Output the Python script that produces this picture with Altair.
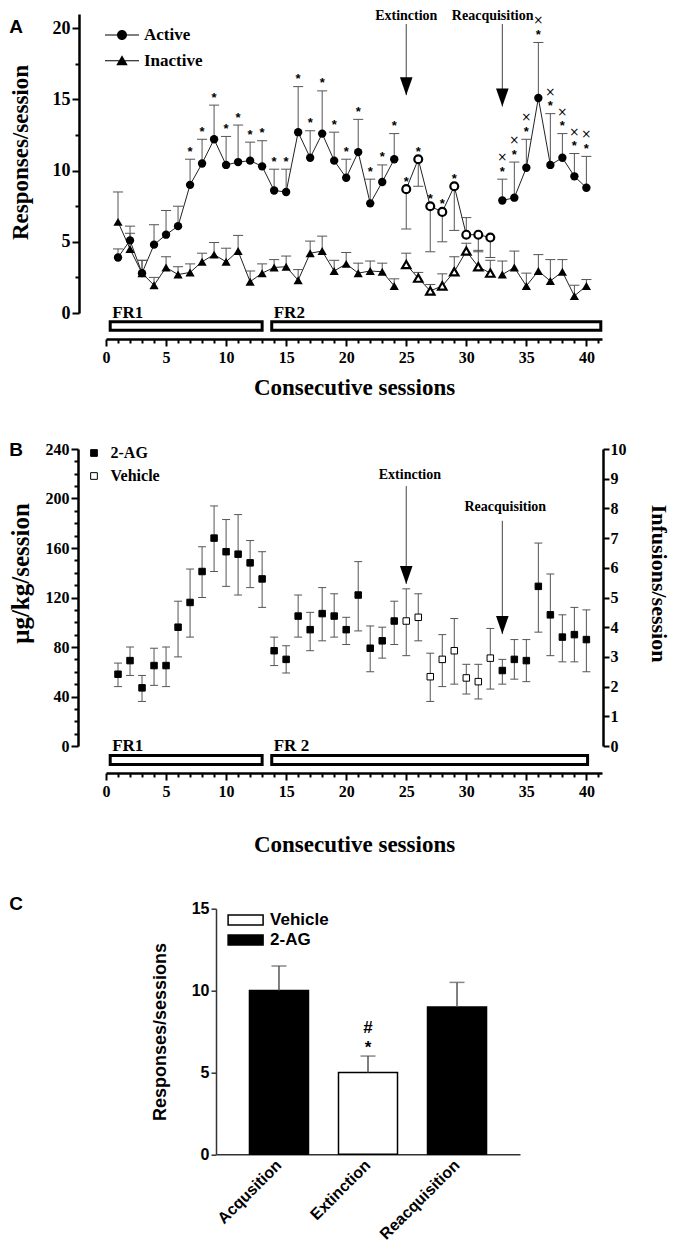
import altair as alt
import pandas as pd

# ---------------- Panel A data ----------------
sessions = list(range(1, 41))
phase = ["acq"] * 24 + ["ext"] * 8 + ["reacq"] * 8
active_mean = [3.9, 5.1, 2.8, 4.8, 5.5, 6.1, 9.0, 10.5, 12.2, 10.4,
               10.6, 10.7, 10.3, 8.6, 8.5, 12.7, 10.9, 12.6, 10.7, 9.5,
               11.3, 7.7, 9.2, 10.8, 8.7, 10.8, 7.5, 7.1, 8.9, 5.5,
               5.5, 5.3, 7.9, 8.1, 10.2, 15.1, 10.4, 10.9, 9.6, 8.8]
active_err_end = [4.5, 5.6, 3.7, 6.2, 7.2, 7.5, 10.8, 12.2, 14.6, 12.4,
                  13.2, 12.0, 12.1, 10.1, 10.1, 15.9, 12.8, 15.6, 12.7, 10.8,
                  13.6, 9.4, 10.4, 12.6, 5.9, 8.9, 4.3, 5.0, 5.8, 6.7,
                  4.3, 3.9, 9.4, 10.6, 12.2, 19.0, 14.0, 12.6, 11.2, 11.0]
inactive_mean = [6.4, 4.5, 2.8, 1.95, 3.2, 2.7, 2.85, 3.6, 4.1, 3.6,
                 4.35, 2.2, 2.8, 3.2, 3.25, 2.3, 4.2, 4.35, 2.95, 3.45,
                 2.8, 2.95, 2.9, 1.9, 3.4, 2.45, 1.55, 1.9, 2.9, 4.35,
                 3.25, 2.8, 2.7, 3.2, 1.9, 2.95, 2.25, 2.9, 1.2, 1.9]
inactive_err_end = [8.5, 6.1, 3.7, 2.5, 3.95, 3.25, 3.45, 4.2, 4.95, 4.55,
                    5.45, 2.95, 3.45, 3.75, 4.0, 3.05, 5.05, 5.4, 3.7, 4.25,
                    3.5, 3.65, 3.5, 2.4, 4.2, 2.85, 2.0, 2.75, 3.95, 4.9,
                    4.4, 3.7, 3.65, 4.35, 2.8, 4.1, 3.75, 3.75, 1.95, 2.35]
active_star = [0] * 6 + [1] * 18 + [1] * 5 + [0] * 3 + [1] * 8
active_cross = [0] * 32 + [1] * 8

# ---------------- Panel B data ----------------
b_group = ["2-AG"] * 24 + ["Vehicle"] * 8 + ["2-AG"] * 8
b_mean = [58, 69, 47, 65, 65, 96, 116, 141, 168, 157,
          155, 148, 135, 77, 70, 105, 94, 107, 105, 94,
          122, 79, 85, 101, 101, 104, 56, 70, 77, 55,
          52, 71, 61, 70, 69, 129, 106, 88, 90, 86]
b_low = [48, 57, 36, 49, 48, 72, 88, 120, 141, 129,
         122, 128, 112, 65, 59, 88, 77, 85, 88, 82,
         93, 60, 71, 82, 73, 85, 36, 48, 50, 42,
         38, 46, 50, 54, 52, 92, 73, 68, 68, 60]
b_high = [67, 80, 57, 79, 80, 117, 143, 161, 194, 183,
          187, 166, 157, 88, 81, 122, 108, 128, 123, 104,
          149, 97, 96, 117, 127, 123, 75, 90, 103, 66,
          66, 95, 70, 86, 86, 164, 139, 106, 112, 110]

# ---------------- Panel C data ----------------
c_phase = ["Acqusition", "Extinction", "Reacquisition"]
c_treat = ["2-AG", "Vehicle", "2-AG"]
c_mean = [10.0, 5.0, 9.0]
c_err = [11.5, 6.0, 10.5]
c_star = ["", "*", ""]
c_hash = ["", "#", ""]

# ---------------- schedules / events ----------------
fr_A = ["FR1", "FR2"]
fr_B = ["FR1", "FR 2"]
fr_start = [0.35, 13.8]
fr_end_A = [13.0, 41.2]
fr_end_B = [13.0, 40.1]
events = ["Extinction", "Reacquisition"]
event_session = [25, 33]

# ---------------- styling ----------------
SERIF = "Liberation Serif"
SANS = "Liberation Sans"
W = 496
HA = 299
HB = 297
WC = 304
HC = 245.6
XDOM = [0, 41.3]
HEAD = "M-0.7,-2L0.7,-2L0,0Z"
BAR = "M-1.4,-0.045H1.4V0.045H-1.4Z"
P_ACT = BAR + "M0.41,0A0.41,0.41,0,1,1,-0.41,0A0.41,0.41,0,1,1,0.41,0Z"
P_INA = BAR + "M0,-0.44L0.47,0.38L-0.47,0.38Z"
P_RECT = "M-1.6,-0.457H1.6V0.457H-1.6Z"


def cond(test, big, small):
    return {"condition": {"test": test, "value": big}, "value": small}


xscale = alt.Scale(domain=XDOM, nice=False, zero=False)


def session_axis(offset, title_pad):
    return alt.Axis(
        values=list(range(0, 42)),
        labelExpr="datum.value % 5 === 0 ? format(datum.value, 'd') : ''",
        tickSize=cond("datum.value % 5 === 0", 7, 4),
        offset=offset, grid=False, labelOverlap=False, labelFlush=False,
        domainColor="black", domainWidth=2.5, tickColor="black", tickWidth=2,
        labelFont=SERIF, labelFontSize=16, labelFontWeight="bold",
        labelColor="black", labelPadding=3,
        title="Consecutive sessions", titleFont=SERIF, titleFontSize=23,
        titleFontWeight="bold", titleColor="black", titlePadding=title_pad)


def letter(txt, x, y):
    return alt.Chart(pd.DataFrame({"t": [txt]})).mark_text(
        font=SANS, fontSize=19, fontWeight="bold", color="black",
        align="center", baseline="middle").encode(
        x=alt.value(x), y=alt.value(y), text="t:N")


# ================= Panel A =================
dfA = pd.DataFrame({"session": sessions, "phase": phase,
                    "active": active_mean, "active_err": active_err_end,
                    "inactive": inactive_mean, "inactive_err": inactive_err_end,
                    "star": active_star, "cross": active_cross})
yA_scale = alt.Scale(domain=[0, 21], nice=False, zero=False)
xA_axis = session_axis(26, 11)
yA_axis = alt.Axis(
    values=[i * 2.5 for i in range(9)],
    labelExpr="datum.value % 5 === 0 ? format(datum.value, 'd') : ''",
    tickSize=cond("datum.value % 5 === 0", 7, 4),
    offset=27, grid=False, labelOverlap=False, labelFlush=False,
    domainColor="black", domainWidth=2.5, tickColor="black", tickWidth=2,
    labelFont=SERIF, labelFontSize=18, labelFontWeight="bold",
    labelColor="black", labelPadding=2,
    title="Responses/session", titleFont=SERIF, titleFontSize=23,
    titleFontWeight="bold", titleColor="black", titlePadding=20, titleY=138)


def xA(f="session"):
    return alt.X(f + ":Q", scale=xscale, axis=xA_axis)


def yA(f):
    return alt.Y(f + ":Q", scale=yA_scale, axis=yA_axis)


baseA = alt.Chart(dfA)

frA_df = pd.DataFrame({"label": fr_A, "start": fr_start, "end": fr_end_A})
frA_rect = alt.Chart(frA_df).mark_rect(fill="white", stroke="black", strokeWidth=3).encode(
    x=xA("start"), x2="end:Q", y=alt.value(HA + 8.8), y2=alt.value(HA + 17.2))
frA_text = alt.Chart(frA_df).mark_text(
    align="left", baseline="alphabetic", dx=2, font=SERIF, fontSize=17,
    fontWeight="bold", color="black").encode(x=xA("start"), y=alt.value(HA + 5), text="label:N")

line_act = baseA.mark_line(color="#222", strokeWidth=1).encode(x=xA(), y=yA("active"), detail="phase:N")
line_in = baseA.mark_line(color="#222", strokeWidth=1).encode(x=xA(), y=yA("inactive"), detail="phase:N")

capsA = baseA.transform_calculate(l="datum.session - 0.42", r="datum.session + 0.42")
err_act = baseA.mark_rule(color="#555", strokeWidth=1).encode(x=xA(), y=yA("active"), y2="active_err:Q")
cap_act = capsA.mark_rule(color="#555", strokeWidth=1).encode(x=xA("l"), x2="r:Q", y=yA("active_err"))
err_in = baseA.mark_rule(color="#555", strokeWidth=1).encode(x=xA(), y=yA("inactive"), y2="inactive_err:Q")
cap_in = capsA.mark_rule(color="#555", strokeWidth=1).encode(x=xA("l"), x2="r:Q", y=yA("inactive_err"))

pt_act_f = baseA.transform_filter("datum.phase !== 'ext'").mark_point(
    shape="circle", filled=True, color="black", size=70, opacity=1).encode(x=xA(), y=yA("active"))
pt_act_o = baseA.transform_filter("datum.phase === 'ext'").mark_point(
    shape="circle", filled=False, fill="white", stroke="black", strokeWidth=2.2,
    size=62, opacity=1).encode(x=xA(), y=yA("active"))
pt_in_f = baseA.transform_filter("datum.phase !== 'ext'").mark_point(
    shape="triangle-up", filled=True, color="black", size=85, opacity=1).encode(x=xA(), y=yA("inactive"))
pt_in_o = baseA.transform_filter("datum.phase === 'ext'").mark_point(
    shape="triangle-up", filled=False, fill="white", stroke="black", strokeWidth=2.2,
    size=70, opacity=1).encode(x=xA(), y=yA("inactive"))

stars = baseA.transform_filter("datum.star == 1").transform_calculate(
    sy="datum.phase === 'ext' ? datum.active : datum.active_err").mark_text(
    text="*", font=SANS, fontSize=13, fontWeight="bold", color="black",
    baseline="alphabetic", dy=-3.5).encode(x=xA(), y=yA("sy"))
crosses = baseA.transform_filter("datum.cross == 1").mark_text(
    text="×", font="DejaVu Sans", fontSize=12, color="black", baseline="middle", dy=-22).encode(
    x=xA(), y=yA("active_err"))

arrA_df = pd.DataFrame({"event": events, "session": event_session,
                        "tip": [15.3, 14.5], "top": [20.3, 20.3],
                        "lab": [20.86, 20.86], "labx": [25.0, 32.2]})
arrA_line = alt.Chart(arrA_df).mark_rule(color="#444", strokeWidth=1).encode(
    x=xA(), y=yA("top"), y2="tip:Q")
arrA_head = alt.Chart(arrA_df).mark_point(
    shape=HEAD, filled=True, color="black", size=324, opacity=1).encode(x=xA(), y=yA("tip"))
arrA_text = alt.Chart(arrA_df).mark_text(
    font=SERIF, fontSize=14, fontWeight="bold", color="black", baseline="middle").encode(
    x=xA("labx"), y=yA("lab"), text="event:N")

legA = alt.Chart(pd.DataFrame({"series": ["Active", "Inactive"]})).transform_filter(
    "datum.series == 'none'").mark_point(
    filled=True, color="black", opacity=1).encode(
    shape=alt.Shape("series:N",
                    scale=alt.Scale(domain=["Active", "Inactive"], range=[P_ACT, P_INA]),
                    legend=alt.Legend(orient="none", legendX=3, legendY=8, title=None,
                                      labelFont=SERIF, labelFontSize=17, labelFontWeight="bold",
                                      labelColor="black", labelOffset=9, symbolSize=590,
                                      rowPadding=4.7, symbolFillColor="black")))

chartA = alt.layer(frA_rect, frA_text, line_act, line_in, err_act, cap_act,
                   err_in, cap_in, pt_act_f, pt_act_o, pt_in_f, pt_in_o, stars, crosses,
                   arrA_line, arrA_head, arrA_text, legA,
                   letter("A", -90, 13)).properties(width=W, height=HA)

# ================= Panel B =================
dfB = pd.DataFrame({"session": sessions, "group": b_group, "mean": b_mean,
                    "low": b_low, "high": b_high})
yB_scale = alt.Scale(domain=[0, 240], nice=False, zero=False)
xB_axis = session_axis(27, 34)
yB_axis = alt.Axis(
    values=list(range(0, 241, 10)),
    labelExpr="datum.value % 40 === 0 ? format(datum.value, 'd') : ''",
    tickSize=cond("datum.value % 40 === 0", 7, 4),
    offset=28, grid=False, labelOverlap=False, labelFlush=False,
    domainColor="black", domainWidth=2.5, tickColor="black", tickWidth=2,
    labelFont=SERIF, labelFontSize=16, labelFontWeight="bold",
    labelColor="black", labelPadding=2,
    title="μg/kg/session", titleFont=SERIF, titleFontSize=25,
    titleFontWeight="bold", titleColor="black", titlePadding=12, titleY=124)


def xB(f="session"):
    return alt.X(f + ":Q", scale=xscale, axis=xB_axis)


def yB(f):
    return alt.Y(f + ":Q", scale=yB_scale, axis=yB_axis)


baseB = alt.Chart(dfB)

frB_df = pd.DataFrame({"label": fr_B, "start": fr_start, "end": fr_end_B})
frB_rect = alt.Chart(frB_df).mark_rect(fill="white", stroke="black", strokeWidth=3).encode(
    x=xB("start"), x2="end:Q", y=alt.value(HB + 9.5), y2=alt.value(HB + 18.5))
frB_text = alt.Chart(frB_df).mark_text(
    align="left", baseline="alphabetic", dx=2, font=SERIF, fontSize=17,
    fontWeight="bold", color="black").encode(x=xB("start"), y=alt.value(HB + 5), text="label:N")

capsB = baseB.transform_calculate(l="datum.session - 0.33", r="datum.session + 0.33")
errB = baseB.mark_rule(color="#555", strokeWidth=1).encode(x=xB(), y=yB("low"), y2="high:Q")
capB_lo = capsB.mark_rule(color="#555", strokeWidth=1).encode(x=xB("l"), x2="r:Q", y=yB("low"))
capB_hi = capsB.mark_rule(color="#555", strokeWidth=1).encode(x=xB("l"), x2="r:Q", y=yB("high"))

ptsB = baseB.mark_square(size=42, stroke="black", strokeWidth=1, opacity=1).encode(
    x=xB(), y=yB("mean"),
    fill=alt.Fill("group:N",
                  scale=alt.Scale(domain=["2-AG", "Vehicle"], range=["black", "white"]),
                  legend=alt.Legend(orient="none", legendX=-20, legendY=-4, title=None,
                                    labelFont=SERIF, labelFontSize=16, labelFontWeight="bold",
                                    labelColor="black", labelOffset=8.5, symbolType="square",
                                    symbolSize=45, rowPadding=7, symbolStrokeColor="black",
                                    symbolStrokeWidth=1)))

arrB_df = pd.DataFrame({"event": events, "session": event_session,
                        "tip": [131, 90.5], "top": [210, 182],
                        "lab": [219, 193], "labx": [25.3, 33.25]})
arrB_line = alt.Chart(arrB_df).mark_rule(color="#444", strokeWidth=1).encode(
    x=xB(), y=yB("top"), y2="tip:Q")
arrB_head = alt.Chart(arrB_df).mark_point(
    shape=HEAD, filled=True, color="black", size=324, opacity=1).encode(x=xB(), y=yB("tip"))
arrB_text = alt.Chart(arrB_df).mark_text(
    font=SERIF, fontSize=14, fontWeight="bold", color="black", baseline="middle").encode(
    x=xB("labx"), y=yB("lab"), text="event:N")

innerB = alt.layer(frB_rect, frB_text, errB, capB_lo, capB_hi, ptsB,
                   arrB_line, arrB_head, arrB_text, letter("B", -90, 0.5))

rightB = baseB.transform_calculate(inf="datum.mean / 24").mark_point(opacity=0).encode(
    x=xB(),
    y=alt.Y("inf:Q", scale=alt.Scale(domain=[0, 10], nice=False, zero=False),
            axis=alt.Axis(orient="right", values=list(range(11)), format="d", tickSize=6,
                          offset=1, grid=False, domainColor="black", domainWidth=2.5,
                          tickColor="black", tickWidth=2, labelFont=SERIF, labelFontSize=16,
                          labelFontWeight="bold", labelColor="black", labelPadding=1,
                          labelFlush=False, labelOverlap=False,
                          title="Infusions/session", titleFont=SERIF, titleFontSize=22,
                          titleFontWeight="bold", titleColor="black", titlePadding=20,
                          titleY=134)))

chartB = alt.layer(innerB, rightB).resolve_scale(y="independent").properties(width=W, height=HB)

# ================= Panel C =================
dfC = pd.DataFrame({"phase": c_phase, "treat": c_treat, "mean": c_mean,
                    "err": c_err, "star": c_star, "hash": c_hash})
xC_scale = alt.Scale(domain=c_phase, paddingInner=0.337, paddingOuter=0.376)
yC_scale = alt.Scale(domain=[0, 15], nice=False, zero=False)
xC_axis = alt.Axis(labelAngle=-45, labelAlign="right", labelBaseline="middle",
                   ticks=False, domainColor="#333", domainWidth=1.5,
                   labelFont=SANS, labelFontSize=16, labelFontWeight="bold",
                   labelColor="black", labelPadding=8, title=None)
yC_axis = alt.Axis(values=[0, 5, 10, 15], format="d", tickSize=5, grid=False,
                   domainColor="#333", domainWidth=1.5, tickColor="#333",
                   tickWidth=1.5, labelFont=SANS, labelFontSize=16,
                   labelFontWeight="bold", labelColor="black", labelPadding=2,
                   title="Responses/sessions", titleFont=SANS, titleFontSize=18,
                   titleFontWeight="bold", titleColor="black", titlePadding=22)
xC = alt.X("phase:N", scale=xC_scale, axis=xC_axis)


def yC(f):
    return alt.Y(f + ":Q", scale=yC_scale, axis=yC_axis)


barsC = alt.Chart(dfC).mark_bar(stroke="black", strokeWidth=1.5).encode(
    x=xC, y=yC("mean"),
    fill=alt.Fill("treat:N", scale=alt.Scale(domain=["Vehicle", "2-AG"], range=["white", "black"]),
                  legend=alt.Legend(orient="none", legendX=17.6, legendY=-0.7, title=None,
                                    labelFont=SANS, labelFontSize=17, labelFontWeight="bold",
                                    labelColor="black", labelOffset=12.5, symbolType=P_RECT,
                                    symbolSize=478, rowPadding=0, symbolStrokeColor="black",
                                    symbolStrokeWidth=1.5)))
errC = alt.Chart(dfC).mark_rule(color="#555", strokeWidth=1.5).encode(
    x=xC, y=yC("mean"), y2="err:Q")
capC = alt.Chart(dfC).mark_tick(color="#555", thickness=1.5, size=15).encode(
    x=xC, y=yC("err"))
starC = alt.Chart(dfC).mark_text(font=SANS, fontSize=17, fontWeight="bold", color="black",
                                 baseline="alphabetic", dy=-3).encode(
    x=xC, y=yC("err"), text="star:N")
hashC = alt.Chart(dfC).mark_text(font=SANS, fontSize=17, fontWeight="bold", color="black",
                                 baseline="alphabetic", dy=-23).encode(
    x=xC, y=yC("err"), text="hash:N")

chartC = alt.layer(barsC, errC, capC, starC, hashC,
                   letter("C", -200, -4.7)).properties(width=WC, height=HC)

spacer = alt.Chart(pd.DataFrame({"a": [0]})).mark_point(opacity=0).encode(
    x=alt.value(0), y=alt.value(0)).properties(width=110, height=10)

rowC = alt.hconcat(spacer, chartC, spacing=0, bounds="flush").resolve_scale(
    fill="independent", shape="independent")
lowerBC = alt.vconcat(chartB, rowC, spacing=162.7, bounds="flush").resolve_scale(
    fill="independent", shape="independent")
chart = alt.vconcat(chartA, lowerBC, spacing=136, bounds="flush").resolve_scale(
    fill="independent", shape="independent").properties(
    padding={"left": 0, "top": 0, "right": 6, "bottom": 4},
    background="white").configure_view(stroke=None)

chart.save("out.html", embed_options={"renderer": "svg", "actions": False})
